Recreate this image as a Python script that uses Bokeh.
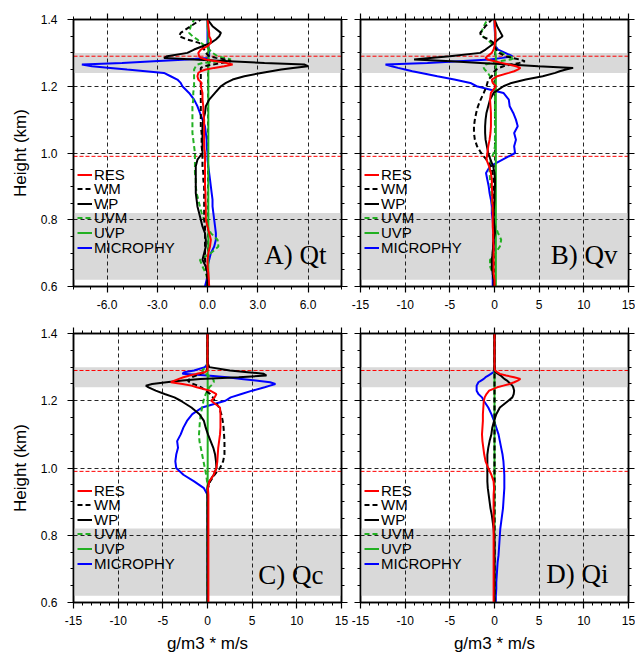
from bokeh.plotting import figure
from bokeh.models import (Range1d, LinearAxis, FixedTicker, BoxAnnotation, Span,
                          Legend, LegendItem, Label, PrintfTickFormatter, ColumnDataSource)
from bokeh.layouts import column, row
from bokeh.embed import file_html
from bokeh.resources import INLINE

# ---------------- data ----------------
H = [0.60, 0.62, 0.64, 0.66, 0.68, 0.70, 0.72, 0.74, 0.76, 0.78,
     0.80, 0.82, 0.84, 0.86, 0.88, 0.90, 0.92, 0.94, 0.96, 0.98,
     1.00, 1.02, 1.04, 1.06, 1.08, 1.10, 1.12, 1.14, 1.16, 1.18,
     1.20, 1.21, 1.22, 1.23, 1.24, 1.245, 1.25, 1.255, 1.26, 1.265,
     1.27, 1.275, 1.28, 1.285, 1.29, 1.30, 1.31, 1.32, 1.33, 1.34,
     1.35, 1.36, 1.38, 1.40]

SERIES = ["RES", "WM", "WP", "UVM", "UVP", "MICROPHY"]

# A) Qt
QT_RES = [0.10, 0.08, 0.05, 0.00, 0.00, 0.05, 0.15, 0.20, 0.10, 0.00,
          -0.10, -0.10, -0.10, -0.12, -0.12, -0.15, -0.15, -0.15, -0.15, -0.15,
          -0.15, -0.20, -0.20, -0.20, -0.20, -0.20, -0.25, -0.25, -0.30, -0.30,
          -0.40, -0.35, -0.55, -0.60, -0.55, -0.40, -0.10, 0.40, 1.00, 1.50,
          1.10, 0.50, -0.10, -0.40, -0.50, -0.55, -0.40, 0.00, 0.20, 0.20,
          0.10, 0.10, 0.05, 0.00]
QT_WM = [0.00, 0.00, -0.05, -0.10, -0.15, -0.15, -0.15, -0.15, -0.15, -0.15,
         -0.20, -0.20, -0.20, -0.20, -0.20, -0.20, -0.25, -0.25, -0.30, -0.30,
         -0.30, -0.35, -0.35, -0.35, -0.40, -0.40, -0.40, -0.40, -0.40, -0.40,
         -0.40, -0.40, -0.40, -0.40, -0.40, -0.40, -0.40, -0.40, -0.20, 0.30,
         0.90, 1.40, 1.10, 0.50, 0.10, -0.10, -0.20, -0.30, -0.50, -1.20,
         -1.70, -1.60, -1.00, -0.40]
QT_WP = [0.00, 0.00, 0.00, -0.10, -0.30, -0.20, -0.10, -0.10, -0.15, -0.30,
         -0.40, -0.50, -0.60, -0.65, -0.70, -0.70, -0.70, -0.70, -0.70, -0.60,
         -0.30, -0.30, -0.30, -0.30, -0.30, -0.25, -0.15, -0.10, 0.10, 0.45,
         0.80, 1.10, 1.50, 2.20, 3.20, 3.80, 4.40, 5.10, 6.00, 5.80,
         3.40, 1.30, -0.80, -2.60, -2.40, -1.20, -0.80, -0.30, 0.20, 0.50,
         0.70, 0.80, 0.30, 0.00]
QT_UVM = [0.00, 0.00, -0.10, -0.30, -0.45, 0.20, 0.65, 0.60, 0.20, 0.00,
          -0.20, -0.35, -0.45, -0.55, -0.65, -0.70, -0.70, -0.75, -0.75, -0.75,
          -0.75, -0.80, -0.85, -0.90, -0.90, -0.90, -0.90, -0.90, -0.85, -0.85,
          -0.80, -0.80, -0.80, -0.80, -0.80, -0.80, -0.80, -0.75, -0.70, -0.60,
          -0.30, 0.80, 1.40, 1.00, 0.60, 0.30, 0.10, -0.10, -0.40, -0.60,
          -0.90, -1.10, -1.00, -0.80]
QT_UVP = [0.05, 0.05, 0.05, 0.05, 0.05, 0.05, 0.05, 0.05, 0.05, 0.05,
          0.05, 0.05, 0.05, 0.05, 0.05, 0.05, 0.05, 0.05, 0.05, 0.05,
          0.05, 0.05, 0.05, 0.05, 0.05, 0.05, 0.05, 0.05, 0.05, 0.05,
          0.05, 0.05, 0.05, 0.05, 0.05, 0.05, 0.05, 0.05, 0.05, 0.05,
          0.10, 0.15, 0.10, 0.05, 0.05, 0.05, 0.05, 0.05, 0.05, 0.05,
          0.05, 0.05, 0.00, 0.00]
QT_MIC = [-0.15, -0.05, 0.00, 0.00, 0.10, 0.20, 0.40, 0.50, 0.50, 0.45,
          0.40, 0.35, 0.30, 0.30, 0.25, 0.20, 0.15, 0.10, 0.05, 0.00,
          0.00, -0.05, -0.05, -0.10, -0.15, -0.30, -0.45, -0.60, -0.80, -1.10,
          -1.50, -1.60, -1.80, -2.20, -2.60, -3.70, -4.80, -5.80, -6.90, -7.50,
          -5.10, -3.20, -1.20, 0.00, 0.10, 0.10, 0.10, 0.05, 0.00, 0.00,
          0.00, 0.00, 0.00, 0.00]

# B) Qv
QV_RES = [0.00, 0.00, -0.10, -0.10, -0.10, -0.10, -0.10, -0.15, -0.15, -0.20,
          -0.20, -0.20, -0.20, -0.25, -0.25, -0.30, -0.30, -0.40, -0.60, -0.90,
          -0.80, -0.70, -0.55, -0.45, -0.40, -0.40, -0.40, -0.45, -0.50, -0.40,
          0.15, -0.20, -0.30, 0.30, 1.60, 2.20, 2.60, 2.90, 2.40, 1.60,
          0.80, 0.00, -0.80, -1.00, -0.80, -0.30, -0.10, 0.00, 0.05, 0.10,
          0.10, 0.10, 0.05, 0.00]
QV_WM = [-0.10, -0.10, -0.20, -0.30, -0.30, -0.20, -0.15, -0.10, -0.15, -0.15,
         -0.10, -0.10, -0.10, -0.10, -0.10, -0.10, -0.10, -0.20, -0.40, -0.90,
         -1.50, -1.95, -2.20, -2.30, -2.30, -2.20, -2.05, -1.85, -1.55, -1.20,
         -0.90, -0.80, -0.70, -0.30, -0.10, 0.00, 0.20, 0.50, 1.00, 1.80,
         2.80, 3.40, 2.80, 2.00, 1.20, 0.50, 0.20, 0.00, -0.10, -0.60,
         -1.50, -1.60, -1.00, -0.30]
QV_WP = [0.00, -0.10, -0.20, -0.30, -0.30, -0.20, -0.15, -0.10, 0.05, 0.00,
         -0.10, -0.10, -0.05, 0.00, 0.00, 0.05, 0.05, 0.00, -0.15, -0.45,
         -0.70, -0.85, -1.00, -1.05, -1.05, -1.00, -0.90, -0.70, -0.50, -0.10,
         1.00, 1.90, 3.50, 5.40, 6.80, 7.30, 8.00, 8.80, 4.90, 1.65,
         -1.60, -4.85, -9.00, -7.20, -5.00, -1.60, -1.00, -0.50, 0.00, 0.40,
         0.90, 0.70, 0.30, 0.00]
QV_UVM = [0.00, -0.05, -0.20, -0.50, -0.50, 0.10, 0.60, 0.75, 0.40, 0.10,
          -0.10, -0.20, -0.25, -0.30, -0.35, -0.40, -0.50, -0.55, -0.55, -0.40,
          -0.10, 0.05, 0.05, 0.05, 0.05, 0.05, 0.05, 0.05, 0.05, 0.05,
          0.00, -0.10, -0.30, -0.50, -0.75, -0.90, -1.10, -1.20, -1.20, -1.00,
          -0.40, 0.60, 1.80, 2.20, 1.60, 0.80, 0.20, -0.10, -0.40, -0.80,
          -1.30, -1.50, -1.20, -0.80]
QV_UVP = [0.15, 0.15, 0.15, 0.15, 0.15, 0.15, 0.15, 0.15, 0.15, 0.15,
          0.15, 0.15, 0.15, 0.15, 0.15, 0.15, 0.15, 0.15, 0.15, 0.15,
          0.15, 0.15, 0.15, 0.15, 0.15, 0.15, 0.15, 0.15, 0.15, 0.15,
          0.15, 0.15, 0.15, 0.15, 0.15, 0.15, 0.15, 0.15, 0.15, 0.15,
          0.15, 0.15, 0.15, 0.15, 0.15, 0.10, 0.10, 0.10, 0.10, 0.10,
          0.10, 0.10, 0.05, 0.00]
QV_MIC = [-0.20, -0.20, -0.20, -0.20, -0.20, -0.15, -0.10, -0.10, -0.10, -0.15,
          -0.20, -0.30, -0.30, -0.40, -0.55, -0.65, -0.80, -0.95, -0.50, 0.90,
          2.30, 2.20, 2.40, 2.20, 2.60, 2.40, 2.10, 1.70, 1.60, 1.00,
          -2.00, -2.70, -4.50, -6.40, -8.20, -9.20, -10.00, -10.80, -11.50, -12.20,
          -7.50, -4.00, -0.50, 0.90, 2.00, 1.20, 0.40, 0.10, 0.10, 0.10,
          0.05, 0.05, 0.00, 0.00]

# C) Qc
QC_RES = [0.10, 0.10, 0.10, 0.10, 0.10, 0.10, 0.10, 0.10, 0.10, 0.10,
          0.10, 0.10, 0.10, 0.10, 0.10, 0.10, 0.10, 0.05, 0.20, 0.70,
          1.00, 1.10, 1.15, 1.20, 1.30, 1.40, 1.45, 1.45, 1.45, 1.40,
          0.40, 0.80, 1.00, 0.30, -1.20, -1.80, -2.80, -4.10, -3.70, -3.20,
          -2.70, -2.00, -1.20, -0.30, 0.00, 0.00, 0.00, 0.00, 0.00, 0.00,
          0.00, 0.00, 0.00, 0.00]
QC_WM = [0.05, 0.05, 0.05, 0.05, 0.05, 0.05, 0.05, 0.05, 0.05, 0.05,
         0.05, 0.05, 0.05, 0.05, 0.05, 0.05, 0.05, 0.05, 0.30, 0.80,
         1.40, 1.75, 1.90, 1.90, 1.90, 1.85, 1.80, 1.70, 1.55, 1.30,
         0.80, 0.60, 0.30, -0.20, -0.70, -1.10, -1.60, -2.00, -2.20, -2.00,
         -1.70, -1.30, -0.80, -0.30, -0.10, 0.00, 0.00, 0.00, 0.00, 0.00,
         0.00, 0.00, 0.00, 0.00]
QC_WP = [0.00, 0.00, 0.00, 0.00, 0.00, 0.00, 0.00, 0.00, 0.00, 0.00,
         0.00, 0.00, 0.00, 0.00, 0.00, 0.00, 0.00, 0.00, 0.20, 0.70,
         1.00, 0.95, 0.85, 0.65, 0.35, 0.05, -0.20, -0.40, -0.90, -1.80,
         -3.00, -3.70, -4.80, -5.80, -6.60, -6.90, -6.20, -4.60, -2.80, -0.80,
         3.50, 6.60, 6.30, 4.50, 2.50, 0.20, 0.05, 0.00, 0.00, 0.00,
         0.00, 0.00, 0.00, 0.00]
QC_UVM = [0.00, 0.00, 0.00, 0.00, 0.00, 0.00, 0.00, 0.00, 0.00, 0.00,
          0.00, 0.00, 0.00, 0.00, 0.00, 0.00, 0.00, 0.00, -0.05, -0.15,
          -0.30, -0.45, -0.60, -0.75, -0.90, -0.95, -0.90, -0.85, -0.75, -0.60,
          -0.45, -0.35, -0.20, 0.00, 0.20, 0.40, 0.60, 0.70, 0.70, 0.60,
          0.40, 0.10, -0.20, -0.50, -0.60, -0.20, 0.00, 0.00, 0.00, 0.00,
          0.00, 0.00, 0.00, 0.00]
QC_UVP = [0.02, 0.02, 0.02, 0.02, 0.02, 0.02, 0.02, 0.02, 0.02, 0.02,
          0.02, 0.02, 0.02, 0.02, 0.02, 0.02, 0.02, 0.02, 0.02, 0.02,
          0.02, 0.02, 0.02, 0.02, 0.02, 0.02, 0.02, 0.02, 0.02, 0.02,
          0.02, 0.02, 0.02, 0.02, 0.02, 0.02, 0.02, 0.02, 0.02, 0.02,
          0.02, 0.02, 0.02, 0.02, 0.02, 0.00, 0.00, 0.00, 0.00, 0.00,
          0.00, 0.00, 0.00, 0.00]
QC_MIC = [0.00, 0.00, 0.00, 0.00, 0.00, 0.00, 0.00, 0.00, 0.00, 0.00,
          0.00, 0.00, 0.00, 0.00, 0.00, 0.00, 0.00, -0.40, -1.50, -2.70,
          -3.50, -3.60, -3.50, -3.30, -3.40, -3.00, -2.70, -2.30, -1.70, -0.60,
          2.00, 2.60, 3.80, 5.00, 6.40, 7.00, 7.60, 7.00, 5.40, 3.80,
          2.20, 0.00, -2.80, -2.60, -1.50, -0.30, 0.00, 0.00, 0.00, 0.00,
          0.00, 0.00, 0.00, 0.00]

# D) Qi
QI_RES = [-0.10, -0.10, -0.10, -0.10, -0.10, -0.10, -0.10, -0.10, -0.10, -0.10,
          -0.10, -0.10, -0.10, -0.10, -0.10, -0.10, -0.10, -0.05, -0.10, -0.35,
          -0.70, -1.00, -1.15, -1.25, -1.35, -1.40, -1.35, -1.30, -1.30, -1.25,
          -1.20, -1.10, -0.90, -0.60, 0.30, 1.00, 1.70, 2.20, 2.60, 2.90,
          2.20, 1.30, 0.60, 0.30, 0.05, 0.00, 0.00, 0.00, 0.00, 0.00,
          0.00, 0.00, 0.00, 0.00]
QI_WM = [0.00, 0.00, 0.00, 0.00, 0.00, 0.00, 0.00, 0.00, 0.00, 0.00,
         0.00, 0.00, 0.00, 0.00, 0.00, 0.00, 0.00, 0.00, 0.00, 0.00,
         0.00, 0.00, 0.00, 0.00, 0.00, 0.00, 0.00, 0.00, 0.00, 0.00,
         0.00, 0.00, 0.00, 0.00, 0.00, 0.00, 0.00, 0.00, 0.00, 0.00,
         0.00, 0.00, 0.00, 0.00, 0.00, 0.00, 0.00, 0.00, 0.00, 0.00,
         0.00, 0.00, 0.00, 0.00]
QI_WP = [0.00, 0.00, 0.00, 0.00, 0.00, 0.00, 0.00, 0.00, 0.00, 0.00,
         -0.05, -0.10, -0.20, -0.30, -0.45, -0.55, -0.65, -0.75, -0.80, -0.80,
         -0.80, -0.80, -0.80, -0.70, -0.55, -0.35, -0.25, -0.05, 0.20, 0.60,
         1.55, 2.00, 2.15, 2.20, 2.10, 2.00, 1.80, 1.60, 1.40, 1.10,
         0.90, 0.70, 0.40, 0.10, 0.00, 0.00, 0.00, 0.00, 0.00, 0.00,
         0.00, 0.00, 0.00, 0.00]
QI_UVM = [0.00, 0.00, 0.00, 0.00, 0.00, 0.00, 0.00, 0.00, 0.00, 0.00,
          0.00, 0.00, 0.00, 0.00, 0.00, 0.00, 0.00, 0.00, 0.00, 0.00,
          0.00, 0.00, 0.00, 0.00, 0.00, 0.00, 0.00, 0.00, 0.00, 0.00,
          0.00, 0.00, 0.00, 0.00, 0.00, 0.00, 0.00, 0.00, 0.00, 0.00,
          0.00, 0.00, 0.00, 0.00, 0.00, 0.00, 0.00, 0.00, 0.00, 0.00,
          0.00, 0.00, 0.00, 0.00]
QI_UVP = [0.00, 0.00, 0.00, 0.00, 0.00, 0.00, 0.00, 0.00, 0.00, 0.00,
          0.00, 0.00, 0.00, 0.00, 0.00, 0.00, 0.00, 0.00, 0.00, 0.00,
          0.00, 0.00, 0.00, 0.00, 0.00, 0.00, 0.00, 0.00, 0.00, 0.00,
          0.00, 0.00, 0.00, 0.00, 0.00, 0.00, 0.00, 0.00, 0.00, 0.00,
          0.00, 0.00, 0.00, 0.00, 0.00, 0.00, 0.00, 0.00, 0.00, 0.00,
          0.00, 0.00, 0.00, 0.00]
QI_MIC = [0.15, 0.15, 0.20, 0.20, 0.25, 0.30, 0.35, 0.45, 0.50, 0.55,
          0.60, 0.65, 0.75, 0.85, 0.95, 1.00, 1.05, 1.10, 1.10, 1.10,
          1.05, 1.00, 0.90, 0.75, 0.60, 0.45, 0.20, -0.05, -0.35, -0.70,
          -1.20, -1.40, -1.80, -2.00, -2.00, -2.00, -1.90, -1.80, -1.50, -1.20,
          -1.00, -0.70, -0.40, -0.10, 0.00, 0.00, 0.00, 0.00, 0.00, 0.00,
          0.00, 0.00, 0.00, 0.00]

# shaded layers and marker lines (km)
BANDS = [(1.24, 1.30), (0.62, 0.82)]
RED_LINES = [1.29, 0.99]

Y_TICKS = [0.6, 0.8, 1.0, 1.2, 1.4]
Y_MINOR = [0.6, 0.65, 0.7, 0.75, 0.8, 0.85, 0.9, 0.95, 1.0, 1.05, 1.1, 1.15, 1.2, 1.25, 1.3, 1.35, 1.4]
Y_GRID = [0.8, 1.0, 1.2]

# ---------------- style ----------------
FONT = "Liberation Sans"
STYLE = {
    "RES": ("#FF0000", "solid"),
    "WM": ("#000000", "5 3"),
    "WP": ("#000000", "solid"),
    "UVM": ("#22B022", "5 3"),
    "UVP": ("#22B022", "solid"),
    "MICROPHY": ("#0000FF", "solid"),
}
DRAW_ORDER = ["MICROPHY", "UVP", "UVM", "WP", "WM", "RES"]
LEG_PITCH = 14.6     # px between legend rows
LEG_BOTTOM = 30.5    # px from frame bottom to the lowest legend row box


def style_axis(ax, labels, standoff):
    ax.axis_line_color = "black"
    ax.axis_line_width = 1.5
    ax.major_tick_line_color = "black"
    ax.major_tick_line_width = 1.2
    ax.minor_tick_line_color = "black"
    ax.minor_tick_line_width = 1
    ax.major_tick_in = 0
    ax.major_tick_out = 6
    ax.minor_tick_in = 0
    ax.minor_tick_out = 3
    ax.major_label_text_font = FONT
    if labels:
        ax.major_label_text_color = "black"
        ax.major_label_text_font_size = "12px"
        ax.major_label_standoff = standoff
    else:
        # mirrored axis: ticks only, labels not drawn
        ax.major_label_text_color = None
        ax.major_label_text_font_size = "1px"
        ax.major_label_standoff = 0
    ax.axis_label_text_font = FONT
    ax.axis_label_text_font_size = "17px"
    ax.axis_label_text_font_style = "normal"
    ax.axis_label_text_color = "black"


def panel(data, tag, xlim, xticks, xminor, xgrid, xfmt, borders, fh, ylab, xlab, lab_pos):
    left, right, top, bottom = borders
    p = figure(frame_width=268, frame_height=fh,
               x_range=Range1d(*xlim), y_range=Range1d(0.6, 1.4),
               output_backend="svg", toolbar_location=None,
               min_border_left=left, min_border_right=right,
               min_border_top=top, min_border_bottom=bottom,
               background_fill_color="white", border_fill_color="white")
    p.outline_line_color = "black"
    p.outline_line_width = 1.5

    xt = FixedTicker(ticks=xticks, minor_ticks=xminor)
    yt = FixedTicker(ticks=Y_TICKS, minor_ticks=Y_MINOR)

    xa = p.xaxis[0]
    xa.ticker = xt
    xa.formatter = PrintfTickFormatter(format=xfmt)
    style_axis(xa, True, 7)
    if xlab:
        xa.axis_label = xlab
        xa.axis_label_standoff = 6

    ya = p.yaxis[0]
    ya.ticker = yt
    ya.formatter = PrintfTickFormatter(format="%.1f")
    style_axis(ya, ylab is not None, 10)
    if ylab:
        ya.axis_label = ylab
        ya.axis_label_standoff = 8

    top_ax = LinearAxis(ticker=xt)
    style_axis(top_ax, False, 0)
    p.add_layout(top_ax, "above")
    right_ax = LinearAxis(ticker=yt)
    style_axis(right_ax, False, 0)
    p.add_layout(right_ax, "right")

    p.xgrid.ticker = FixedTicker(ticks=xgrid)
    p.ygrid.ticker = FixedTicker(ticks=Y_GRID)
    for g in (p.xgrid, p.ygrid):
        g.grid_line_color = "black"
        g.grid_line_dash = "4 3"
        g.grid_line_width = 1
        g.grid_line_alpha = 0.85

    for lo, hi in BANDS:
        p.add_layout(BoxAnnotation(bottom=lo, top=hi, fill_color="#D9D9D9",
                                   fill_alpha=1.0, line_alpha=0, level="image"))
    for h in RED_LINES:
        p.add_layout(Span(location=h, dimension="width", line_color="#FF0000",
                          line_dash="4 2", line_width=1, level="underlay"))

    rends = {}
    for name in DRAW_ORDER:
        color, dash = STYLE[name]
        src = ColumnDataSource(dict(x=data[name], y=H))
        rends[name] = p.line("x", "y", source=src, line_color=color,
                             line_dash=dash, line_width=2)

    # one single-entry legend per row, so the row pitch can be set exactly
    n = len(SERIES)
    for i, name in enumerate(SERIES):
        ypos = LEG_BOTTOM + (n - 1 - i) * LEG_PITCH
        leg = Legend(items=[LegendItem(label=name, renderers=[rends[name]])],
                     location=(4, ypos), padding=0, margin=0, spacing=0,
                     glyph_width=15, glyph_height=17, label_height=17,
                     label_standoff=2, label_text_font=FONT,
                     label_text_font_size="15px", label_text_color="black",
                     background_fill_alpha=0, border_line_alpha=0)
        p.add_layout(leg)

    p.add_layout(Label(x=lab_pos[0], y=lab_pos[1], x_units="screen", y_units="screen",
                       text=tag, text_font="Liberation Serif", text_font_size="27px",
                       text_align="right", text_baseline="alphabetic", text_color="black"))
    return p


XT_A = [-6, -3, 0, 3, 6]
XM_A = list(range(-8, 9))
XT_B = [-15, -10, -5, 0, 5, 10, 15]
XM_B = list(range(-15, 16))
XG_B = [-10, -5, 0, 5, 10]

dA = dict(zip(SERIES, [QT_RES, QT_WM, QT_WP, QT_UVM, QT_UVP, QT_MIC]))
dB = dict(zip(SERIES, [QV_RES, QV_WM, QV_WP, QV_UVM, QV_UVP, QV_MIC]))
dC = dict(zip(SERIES, [QC_RES, QC_WM, QC_WP, QC_UVM, QC_UVP, QC_MIC]))
dD = dict(zip(SERIES, [QI_RES, QI_WM, QI_WP, QI_UVM, QI_UVP, QI_MIC]))

pA = panel(dA, "A) Qt", (-8, 8), XT_A, XM_A, XT_A, "%.1f", (73, 9, 19, 28), 267,
           "Height (km)", None, (253, 32))
pB = panel(dB, "B) Qv", (-15, 15), XT_B, XM_B, XG_B, "%d", (10, 7, 19, 28), 267,
           None, None, (257, 32))
pC = panel(dC, "C) Qc", (-15, 15), XT_B, XM_B, XG_B, "%d", (73, 9, 19, 52), 269,
           "Height (km)", "g/m3 * m/s", (250, 28))
pD = panel(dD, "D) Qi", (-15, 15), XT_B, XM_B, XG_B, "%d", (10, 7, 19, 52), 269,
           None, "g/m3 * m/s", (248, 29))

layout = column(row(pA, pB), row(pC, pD))
open("out.html", "w").write(file_html(layout, INLINE))
